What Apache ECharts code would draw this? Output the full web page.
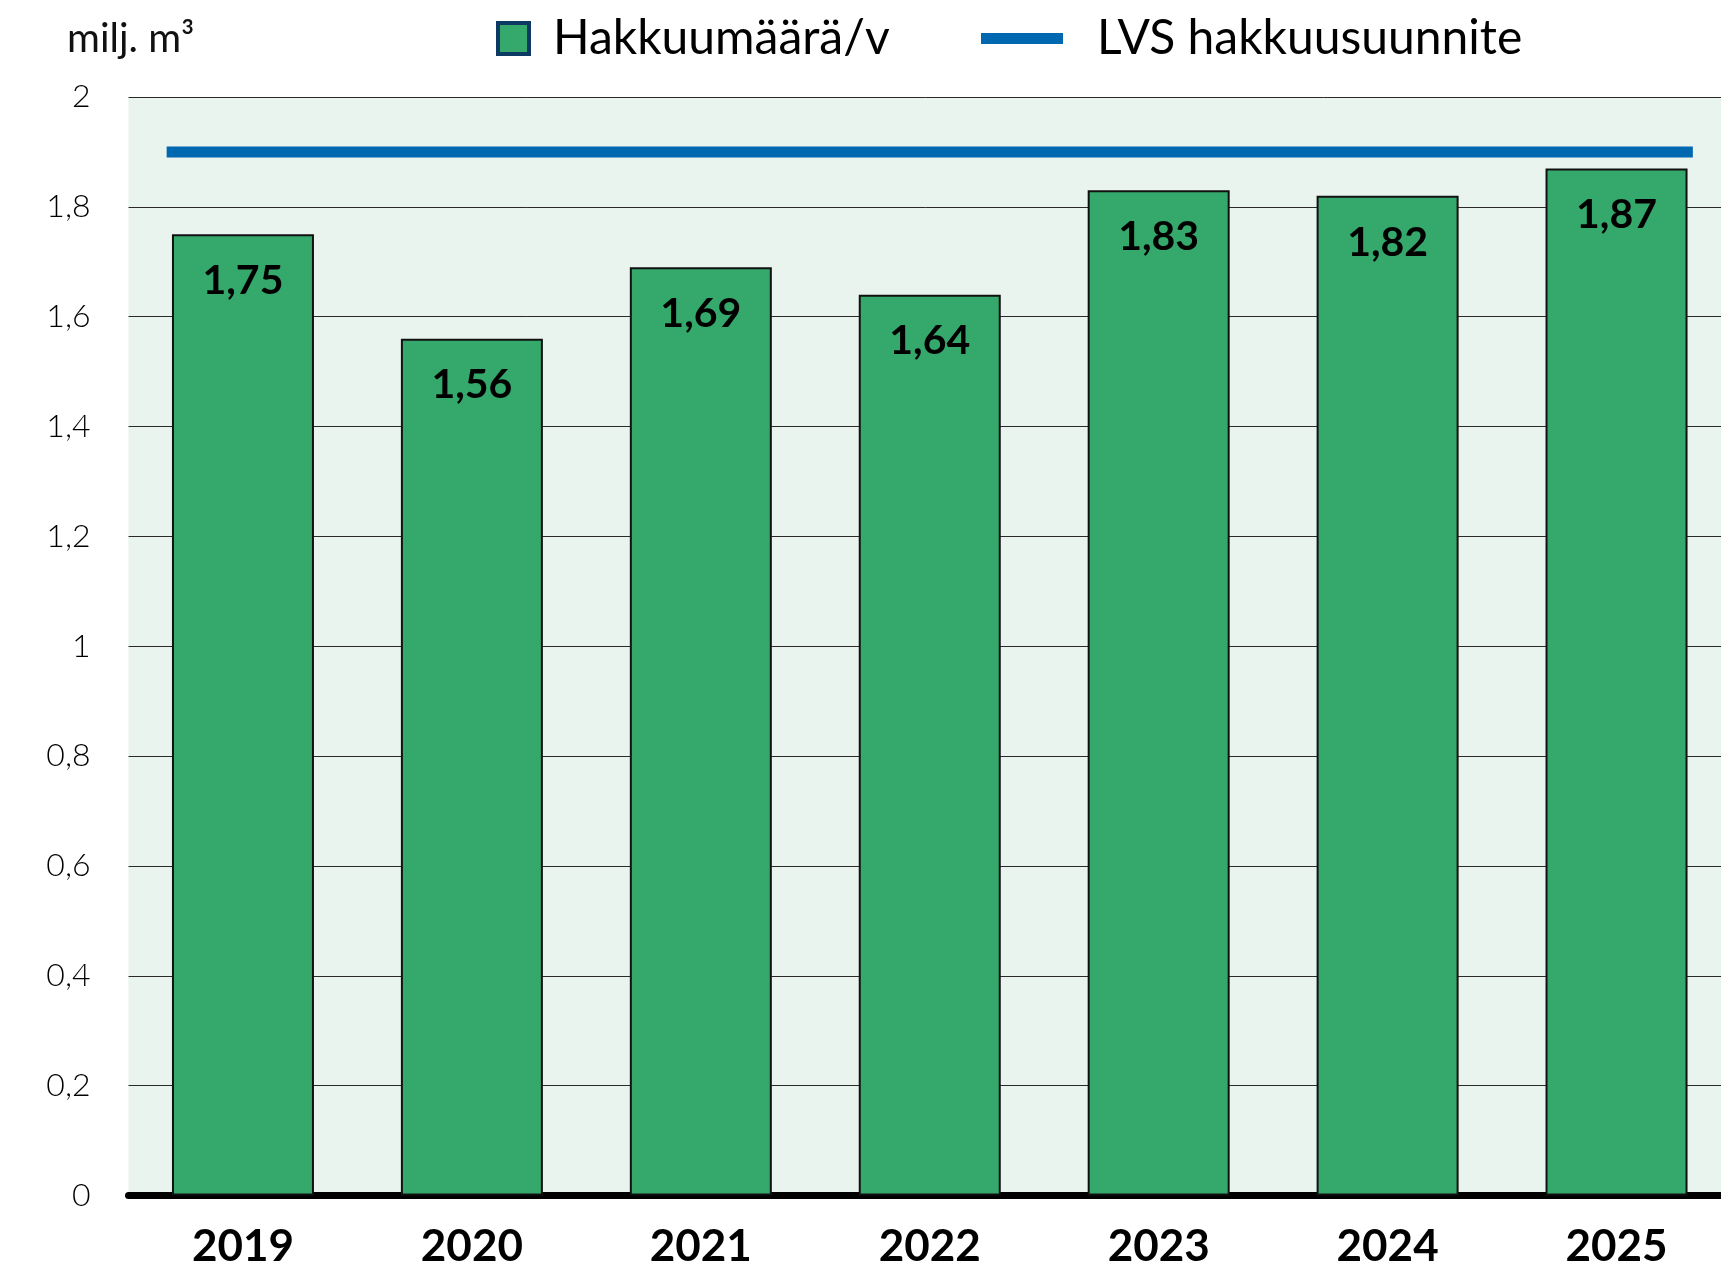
<!DOCTYPE html>
<html>
<head>
<meta charset="utf-8">
<script src="https://cdn.jsdelivr.net/npm/echarts@6/dist/echarts.min.js"></script>
<style>
html, body { margin: 0; padding: 0; background: #fff; }
#chart { width: 1721px; height: 1266px; }
</style>
</head>
<body>
<div id="chart"></div>
<script>
// vuodet ja hakkuumäärät (milj. m3)
var years = ['2019', '2020', '2021', '2022', '2023', '2024', '2025'];
var harvest = [1.75, 1.56, 1.69, 1.64, 1.83, 1.82, 1.87];
var planValue = 1.9;
var yTicks = [0, 0.2, 0.4, 0.6, 0.8, 1, 1.2, 1.4, 1.6, 1.8, 2];

var barName = 'Hakkuumäärä/v';
var lineName = 'LVS hakkuusuunnite';

function fiNum(v){
	return String(Math.round(v * 100) / 100).replace('.', ',');
}

// suunnite-viiva ulottuu 1/3 sarakkeesta ensimmäisen ja viimeisen vuoden yli
var planLine = [[-1 / 3, planValue], [years.length - 1 + 1 / 3, planValue]];

var chart = echarts.init(document.getElementById('chart'));

var option = {
	animation: false,
	title: {
		text: 'milj. m³',
		left: 62,
		top: 14,
		textStyle: { fontFamily: 'Lato', fontWeight: 'normal', fontSize: 40, color: '#111' }
	},
	legend: [
		{
			data: [barName],
			left: 496, top: 14.5, padding: 0,
			icon: 'rect', itemWidth: 31, itemHeight: 31,
			selectedMode: false,
			itemStyle: { color: '#35A86B', borderColor: '#0D3A63', borderWidth: 4 },
			textStyle: { fontFamily: 'Lato', fontSize: 48, color: '#000', padding: [0, 0, 0, 19] }
		},
		{
			data: [lineName],
			left: 981, top: 14.5, padding: 0,
			icon: 'rect', itemWidth: 82, itemHeight: 11,
			selectedMode: false,
			itemStyle: { color: '#0067B1', borderWidth: 0 },
			textStyle: { fontFamily: 'Lato', fontSize: 48, color: '#000', padding: [0, 0, 0, 29] }
		}
	],
	grid: {
		left: 128.5, top: 97, width: 1602.5, height: 1098.5,
		outerBoundsMode: 'none',
		containLabel: false,
		show: true, backgroundColor: '#EAF4EE', borderWidth: 0
	},
	xAxis: [
		{
			type: 'category',
			data: years,
			axisLine: { lineStyle: { color: '#000', width: 7 } },
			axisTick: { show: false },
			axisLabel: { fontFamily: 'Lato', fontWeight: 'bold', fontSize: 44, color: '#000', margin: 29 }
		},
		{
			type: 'value',
			min: -0.5, max: years.length - 0.5,
			show: false
		}
	],
	yAxis: {
		type: 'value',
		min: 0, max: 2, interval: 0.2,
		axisLine: { show: false },
		axisTick: { show: false },
		splitLine: { lineStyle: { color: '#2a2a2a', width: 1 } },
		axisLabel: {
			fontFamily: 'Lato', fontWeight: 300, fontSize: 32, color: '#000', margin: 38,
			formatter: function (v){ return fiNum(v); }
		}
	},
	series: [
		{
			name: barName,
			type: 'bar',
			data: harvest,
			barWidth: 142,
			itemStyle: { color: '#35A86B', borderColor: '#111', borderWidth: 2 },
			label: {
				show: true,
				position: 'insideTop',
				distance: 26,
				fontFamily: 'Lato', fontWeight: 'bold', fontSize: 41, color: '#000',
				formatter: function (p){ return fiNum(p.value); }
			}
		},
		{
			name: lineName,
			type: 'line',
			xAxisIndex: 1,
			data: planLine,
			symbol: 'none',
			lineStyle: { color: '#0067B1', width: 11, cap: 'butt' },
			itemStyle: { color: '#0067B1' },
			z: 3
		}
	]
};
chart.setOption(option);
</script>
</body>
</html>
